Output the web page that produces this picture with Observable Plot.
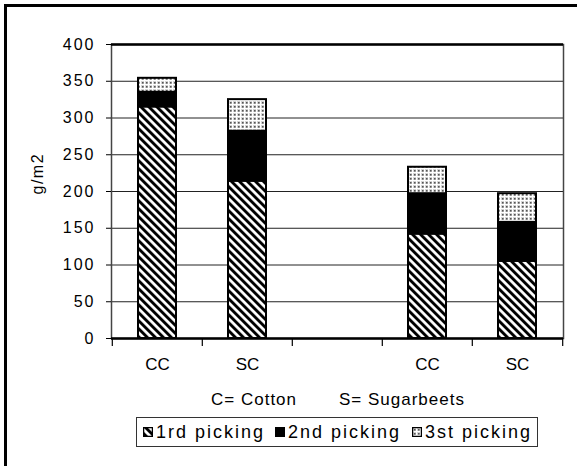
<!DOCTYPE html>
<html><head><meta charset="utf-8">
<script src="https://cdn.jsdelivr.net/npm/d3@7"></script>
<script src="https://cdn.jsdelivr.net/npm/@observablehq/plot@0.6"></script>
<style>
body{margin:0;background:#fff;font-family:"Liberation Sans",Arial,sans-serif;color:#000;}
#wrap{position:relative;width:577px;height:466px;overflow:hidden;background:#fff;}
#border{position:absolute;left:4px;top:4px;width:700px;height:700px;border-left:3px solid #000;border-top:3px solid #000;}
#chart{position:absolute;left:0;top:0;}
.note{position:absolute;top:390px;font-size:17px;line-height:20px;letter-spacing:1px;white-space:nowrap;}
#legend{position:absolute;left:136px;top:417px;width:400px;height:28px;border:1px solid #333;}
.item{position:absolute;top:0;height:28px;line-height:28px;font-size:18px;letter-spacing:2px;white-space:nowrap;display:flex;align-items:center;}
.item svg{margin-right:3px;}
</style>
</head><body>
<svg width="0" height="0" style="position:absolute">
  <defs>
    <pattern id="hatch" width="5.66" height="5.66" patternUnits="userSpaceOnUse" patternTransform="rotate(-45)">
      <rect width="5.66" height="5.66" fill="#fff"/>
      <rect width="2.9" height="5.66" fill="#000"/>
    </pattern>
    <pattern id="dots" width="4" height="4" patternUnits="userSpaceOnUse">
      <rect width="4" height="4" fill="#d4d4d4"/>
      <rect width="4" height="1" fill="#fff"/>
      <rect width="1" height="4" fill="#fff"/>
      <rect x="2" y="2" width="1.6" height="1.6" fill="#555"/>
    </pattern>
  </defs>
</svg>
<div id="wrap">
  <div id="border"></div>
  <div id="chart"></div>
  <div class="note" id="note1" style="left:211px"></div>
  <div class="note" id="note2" style="left:339px"></div>
  <div id="legend"></div>
</div>
<script>
// ---- data ----
const barKeys = ["C-CC", "C-SC", "gap", "S-CC", "S-SC"];
const barLabels = ["CC", "SC", "", "CC", "SC"];
const pickings = ["1rd picking", "2nd picking", "3st picking"];
const picking1 = [315, 214, null, 142, 105];
const picking2 = [20, 68, null, 55, 53];
const picking3 = [19, 43, null, 36, 39];
const yTicks = [0, 50, 100, 150, 200, 250, 300, 350, 400];
const notes = ["C= Cotton", "S= Sugarbeets"];
const yLabel = "g/m2";
const fills = ["url(#hatch)", "#000", "url(#dots)"];

const series = [picking1, picking2, picking3];
const data = [];
barKeys.forEach((k, i) => series.forEach((s, j) => {
  if (s[i] != null) data.push({key: k, picking: pickings[j], value: s[i]});
}));
const labelOf = new Map(barKeys.map((k, i) => [k, barLabels[i]]));
const half = 452 / barKeys.length / 2;

const chart = Plot.plot({
  width: 577, height: 385,
  marginLeft: 111, marginRight: 14, marginTop: 44, marginBottom: 47,
  style: {fontFamily: '"Liberation Sans", Arial, sans-serif', fontSize: "16px", color: "#000", background: "transparent"},
  x: {domain: barKeys, paddingInner: 0.58, paddingOuter: 0.29, align: 0.5},
  y: {domain: [0, 400]},
  color: {domain: pickings, range: fills},
  marks: [
    Plot.gridY(yTicks, {stroke: "#222", strokeOpacity: 1, strokeWidth: 1}),
    Plot.barY(data, {x: "key", y: "value", fill: "picking", stroke: "#000", strokeWidth: 2}),
    Plot.frame({stroke: "#444", strokeWidth: 1.5}),
    Plot.ruleY([0, 400], {stroke: "#000", strokeWidth: 2.5}),
    Plot.axisY(yTicks, {tickSize: 5, tickPadding: 11, label: null, fontSize: 16}),
    Plot.axisX({tickSize: 0, tickPadding: 19, tickFormat: k => labelOf.get(k), label: null, fontSize: 17}),
    Plot.ruleX(barKeys, {dx: -half, y1: 0, y2: -11, stroke: "#000", strokeWidth: 1.2}),
    Plot.ruleX([barKeys[barKeys.length - 1]], {dx: half, y1: 0, y2: -11, stroke: "#000", strokeWidth: 1.2}),
    Plot.text([yLabel], {frameAnchor: "left", dx: -74, dy: 3, rotate: -90, fontSize: 16, fill: "#000"})
  ]
});
d3.select(chart).selectAll('[aria-label="y-axis tick label"] text').style("letter-spacing", "2px");
d3.select(chart).selectAll('[aria-label="text"] text').style("letter-spacing", "1.5px");
document.getElementById("chart").appendChild(chart);

document.getElementById("note1").textContent = notes[0];
document.getElementById("note2").textContent = notes[1];

const legend = d3.select("#legend");
const lefts = [6, 138, 275];
pickings.forEach((p, i) => {
  const item = legend.append("div").attr("class", "item").style("left", lefts[i] + "px");
  const sw = item.append("svg").attr("width", 10).attr("height", 10);
  sw.append("rect").attr("x", 0.5).attr("y", 0.5).attr("width", 9).attr("height", 9)
    .attr("fill", fills[i]).attr("stroke", "#000").attr("stroke-width", 1.5);
  item.append("span").text(p);
});
</script>
</body></html>
